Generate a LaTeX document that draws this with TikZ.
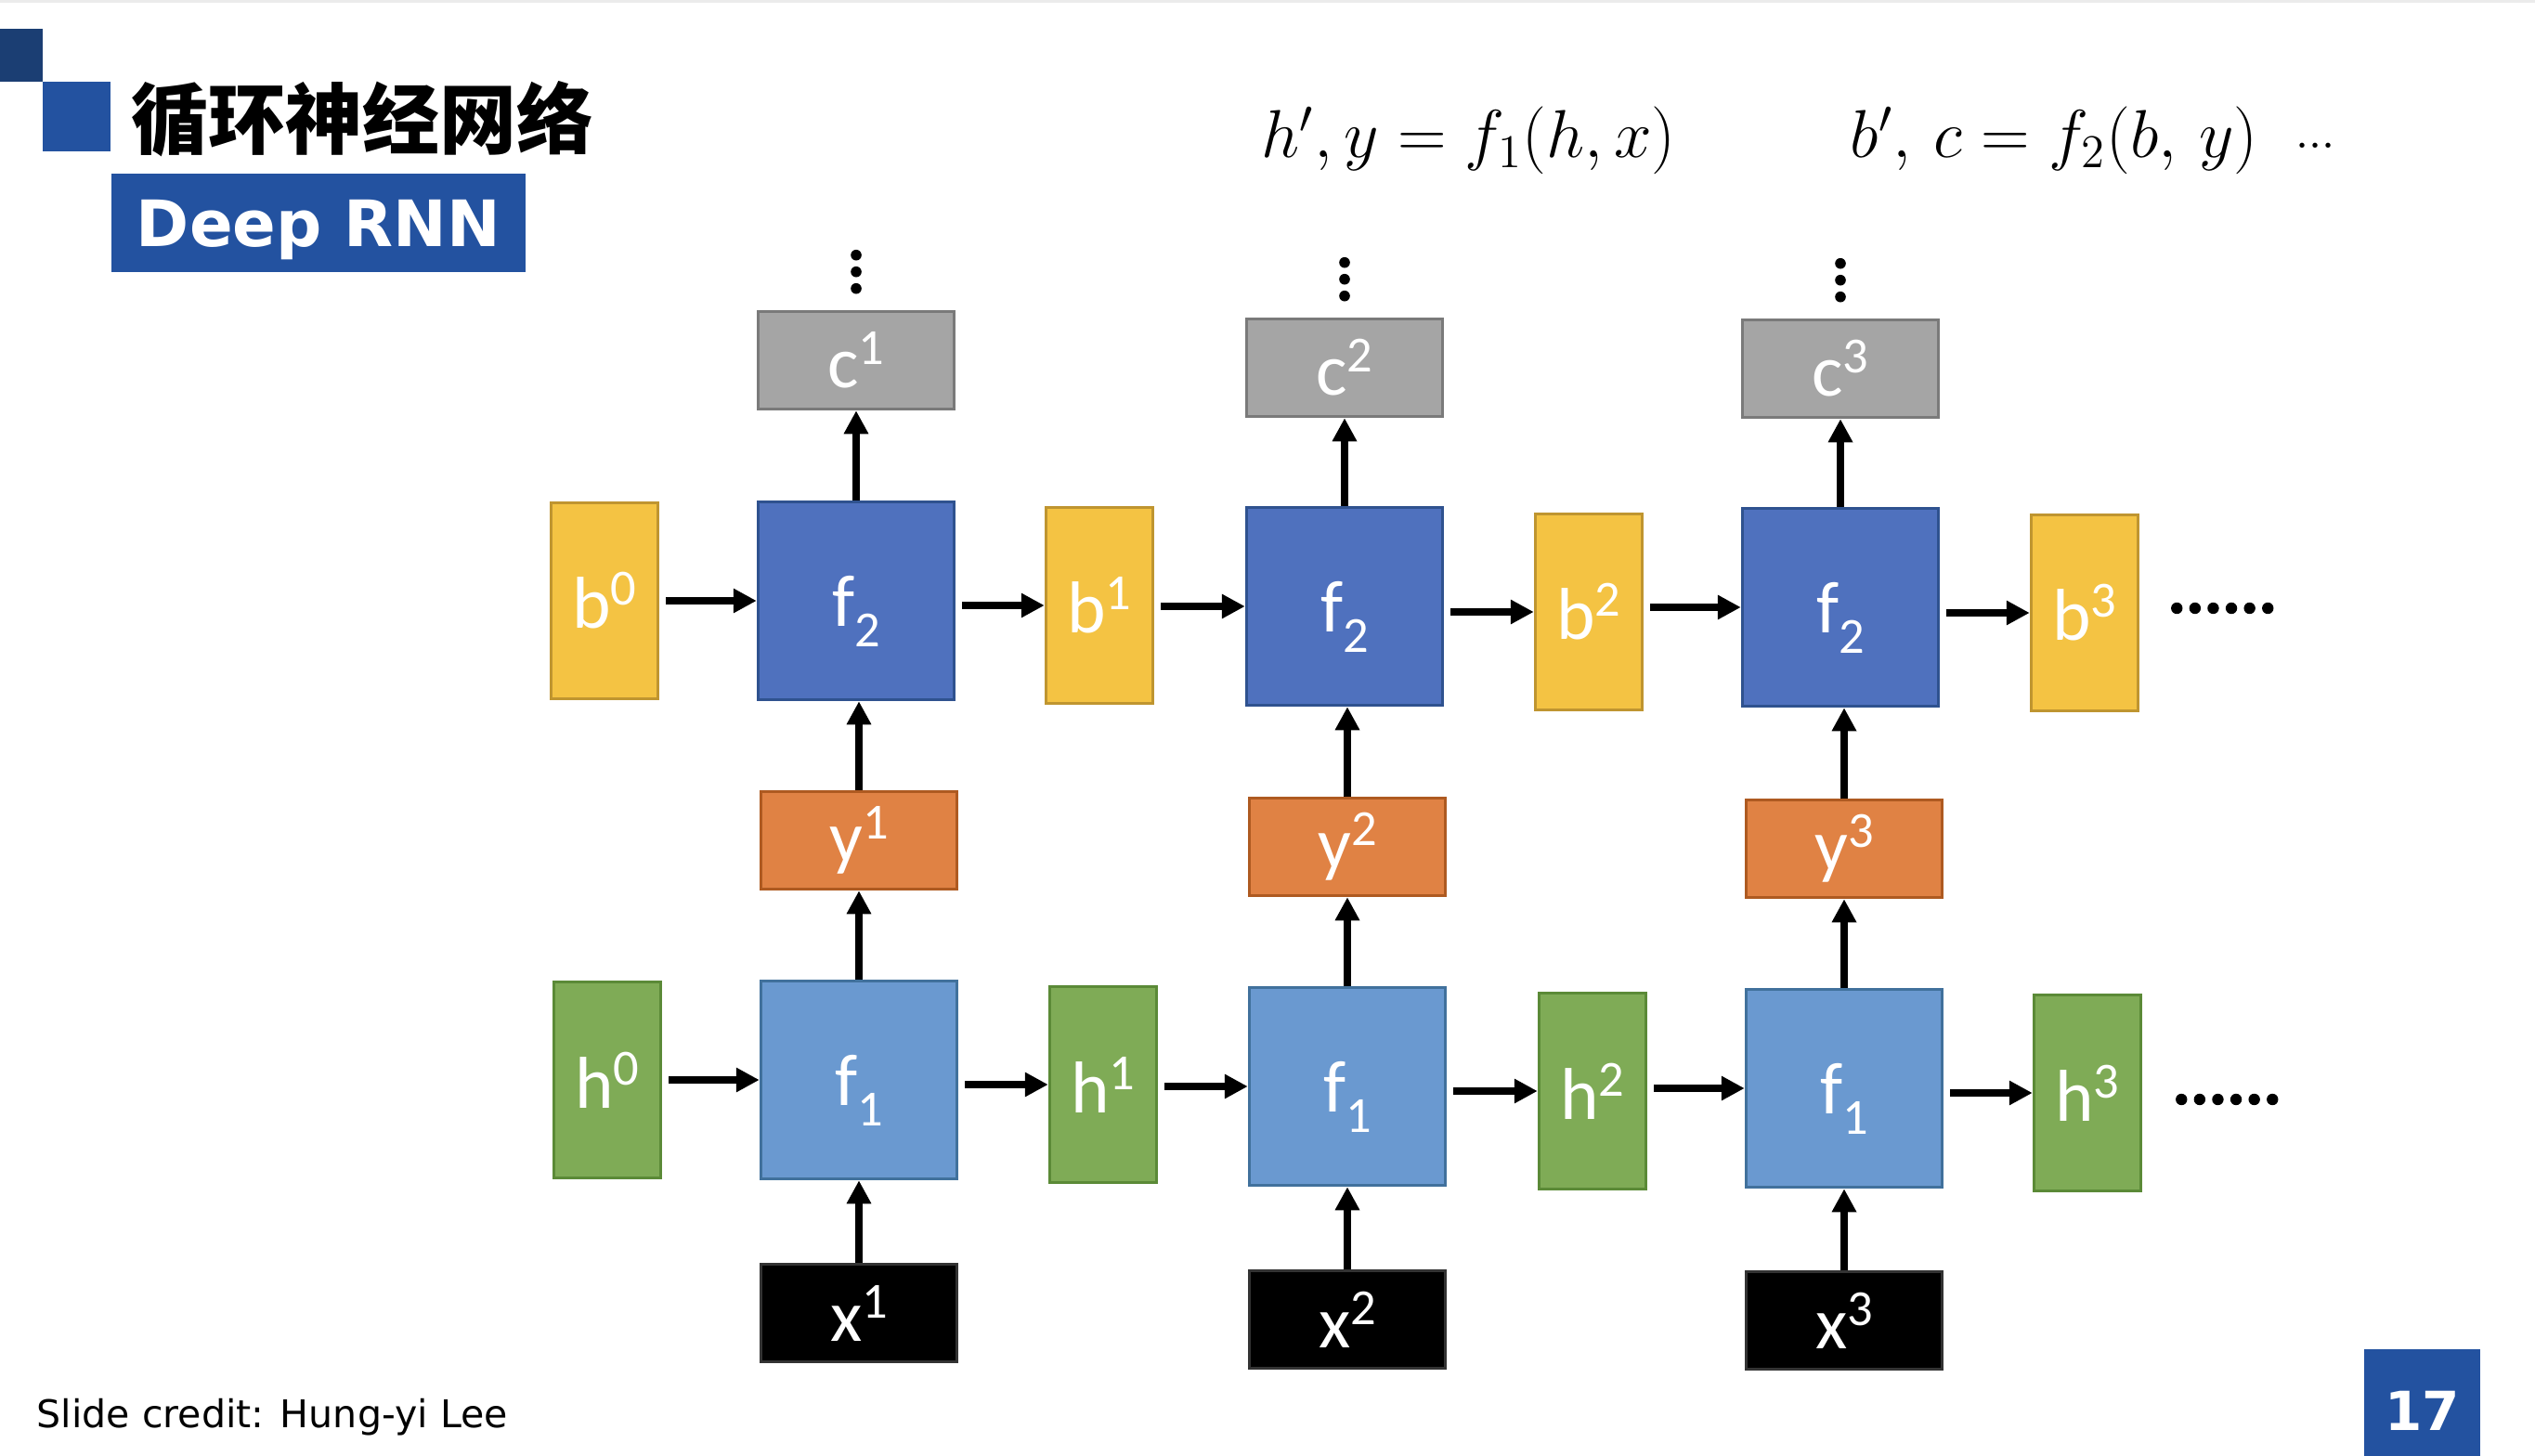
\documentclass[tikz,border=0pt]{standalone}
\usepackage{fontspec}
\usetikzlibrary{arrows.meta}

\newfontfamily\cjk{Noto Sans CJK SC}
\newfontfamily\boxfont{Carlito}
\newfontfamily\slidefont{DejaVu Sans}

\definecolor{slideblue}{HTML}{2352A0}
\definecolor{slidenavy}{HTML}{1B3E73}
\definecolor{ftwofill}{HTML}{4F71BE}
\definecolor{ftwoline}{HTML}{2F528F}
\definecolor{fonefill}{HTML}{6A99D0}
\definecolor{foneline}{HTML}{41719C}
\definecolor{bfill}{HTML}{F4C343}
\definecolor{bline}{HTML}{BF9530}
\definecolor{hfill}{HTML}{7FAB56}
\definecolor{hline}{HTML}{5B8A37}
\definecolor{yfill}{HTML}{E08244}
\definecolor{yline}{HTML}{AE5A21}
\definecolor{cfill}{HTML}{A5A5A5}
\definecolor{cline}{HTML}{7A7A7A}

\newcommand{\supr}[1]{\raisebox{0.25cm}{\fontsize{15.5pt}{16pt}\selectfont #1}}
\newcommand{\subr}[1]{\smash{\raisebox{-0.22cm}{\fontsize{15.5pt}{16pt}\selectfont #1}}}

\begin{document}
\begin{tikzpicture}[
    box/.style={draw, line width=1pt, inner sep=0pt, text=white, font=\boxfont\fontsize{22.5pt}{24pt}\selectfont},
    cell/.style={box, minimum width=2.11cm, minimum height=2.13cm},
    io/.style={box, minimum width=2.11cm, minimum height=1.05cm},
    state/.style={box, minimum width=1.15cm, minimum height=2.11cm},
    ftwo/.style={cell, fill=ftwofill, draw=ftwoline},
    fone/.style={cell, fill=fonefill, draw=foneline},
    bstate/.style={state, fill=bfill, draw=bline},
    hstate/.style={state, fill=hfill, draw=hline},
    yout/.style={io, fill=yfill, draw=yline},
    cout/.style={io, fill=cfill, draw=cline},
    xin/.style={io, fill=black, draw=black!80},
    arrow/.style={-{Triangle[length=0.25cm, width=0.25cm]}, line width=0.085cm}
]

% Slide frame
\path[fill=white] (0,0) rectangle (27.30,-15.68);
\fill[black!8] (0,0) rectangle (27.30,-0.03);
\fill[slidenavy] (0,-0.31) rectangle (0.46,-0.88);
\fill[slideblue] (0.46,-0.88) rectangle (1.19,-1.63);

\node[anchor=west, inner sep=0pt, font=\cjk\bfseries\fontsize{23.6pt}{26pt}\selectfont] (title) at (1.41,-1.28) {循环神经网络};
\node[fill=slideblue, minimum width=4.46cm, minimum height=1.06cm, inner sep=0pt, text=white,
      font=\slidefont\bfseries\fontsize{19.6pt}{22pt}\selectfont, text height=0.52cm, text depth=0cm] (subtitle) at (3.43,-2.40) {Deep RNN};

% Equations
\node[anchor=base west, inner sep=0pt, font=\fontsize{19.4pt}{22pt}\selectfont] (eqone) at (13.58,-1.70) {$h', y = f_1(h, x)$};
\node[anchor=base west, inner sep=0pt, font=\fontsize{19.4pt}{22pt}\selectfont] (eqtwo) at (19.92,-1.70) {$b',\, c = f_2(b,\, y)\hspace{0.6em}{\scriptstyle\cdots}$};

% Upper layer
\node[bstate] (b0) at (6.51,-6.47) {b\supr{0}};
\node[ftwo] (f2a) at (9.22,-6.47) {f\subr{2}};
\node[bstate] (b1) at (11.84,-6.52) {b\supr{1}};
\node[ftwo] (f2b) at (14.48,-6.53) {f\subr{2}};
\node[bstate] (b2) at (17.11,-6.59) {b\supr{2}};
\node[ftwo] (f2c) at (19.82,-6.54) {f\subr{2}};
\node[bstate] (b3) at (22.45,-6.60) {b\supr{3}};

\node[cout] (c1) at (9.22,-3.88) {c\supr{1}};
\node[cout] (c2) at (14.48,-3.96) {c\supr{2}};
\node[cout] (c3) at (19.82,-3.97) {c\supr{3}};

\node[yout] (y1) at (9.25,-9.05) {y\supr{1}};
\node[yout] (y2) at (14.51,-9.12) {y\supr{2}};
\node[yout] (y3) at (19.86,-9.14) {y\supr{3}};

% Lower layer
\node[hstate] (h0) at (6.54,-11.63) {h\supr{0}};
\node[fone] (f1a) at (9.25,-11.63) {f\subr{1}};
\node[hstate] (h1) at (11.88,-11.68) {h\supr{1}};
\node[fone] (f1b) at (14.51,-11.70) {f\subr{1}};
\node[hstate] (h2) at (17.15,-11.75) {h\supr{2}};
\node[fone] (f1c) at (19.86,-11.72) {f\subr{1}};
\node[hstate] (h3) at (22.48,-11.77) {h\supr{3}};

\node[xin] (x1) at (9.25,-14.14) {x\supr{1}};
\node[xin] (x2) at (14.51,-14.21) {x\supr{2}};
\node[xin] (x3) at (19.86,-14.22) {x\supr{3}};

% Horizontal arrows
\draw[arrow, shorten <=0.07cm] (b0.east |- f2a) -- (f2a.west);
\draw[arrow, shorten <=0.07cm] (f2a.east |- b1) -- (b1.west);
\draw[arrow, shorten <=0.07cm] (b1.east |- f2b) -- (f2b.west);
\draw[arrow, shorten <=0.07cm] (f2b.east |- b2) -- (b2.west);
\draw[arrow, shorten <=0.07cm] (b2.east |- f2c) -- (f2c.west);
\draw[arrow, shorten <=0.07cm] (f2c.east |- b3) -- (b3.west);

\draw[arrow, shorten <=0.07cm] (h0.east |- f1a) -- (f1a.west);
\draw[arrow, shorten <=0.07cm] (f1a.east |- h1) -- (h1.west);
\draw[arrow, shorten <=0.07cm] (h1.east |- f1b) -- (f1b.west);
\draw[arrow, shorten <=0.07cm] (f1b.east |- h2) -- (h2.west);
\draw[arrow, shorten <=0.07cm] (h2.east |- f1c) -- (f1c.west);
\draw[arrow, shorten <=0.07cm] (f1c.east |- h3) -- (h3.west);

% Vertical arrows
\draw[arrow] (x1.north) -- (x1.north |- f1a.south);
\draw[arrow] (f1a.north) -- (f1a.north |- y1.south);
\draw[arrow] (y1.north) -- (y1.north |- f2a.south);
\draw[arrow] (f2a.north) -- (f2a.north |- c1.south);

\draw[arrow] (x2.north) -- (x2.north |- f1b.south);
\draw[arrow] (f1b.north) -- (f1b.north |- y2.south);
\draw[arrow] (y2.north) -- (y2.north |- f2b.south);
\draw[arrow] (f2b.north) -- (f2b.north |- c2.south);

\draw[arrow] (x3.north) -- (x3.north |- f1c.south);
\draw[arrow] (f1c.north) -- (f1c.north |- y3.south);
\draw[arrow] (y3.north) -- (y3.north |- f2c.south);
\draw[arrow] (f2c.north) -- (f2c.north |- c3.south);

% Continuation dots
\foreach \n in {c1,c2,c3}
    \foreach \d in {0.23,0.41,0.59}
        \fill ([yshift=\d cm]\n.north) circle (0.058);
\foreach \k in {0,...,5} {
    \fill ([xshift=0.40cm+\k*0.196cm, yshift=0.05cm]b3.east) circle (0.062);
    \fill ([xshift=0.42cm+\k*0.196cm, yshift=-0.07cm]h3.east) circle (0.062);
}

% Footer
\node[anchor=base west, inner sep=0pt, font=\slidefont\fontsize{11.7pt}{14pt}\selectfont] (credit) at (0.39,-15.37) {Slide credit: Hung-yi Lee};
\node[fill=slideblue, minimum width=1.25cm, minimum height=1.15cm, inner sep=0pt, text=white,
      font=\slidefont\bfseries\fontsize{16.5pt}{18pt}\selectfont, text height=0.59cm, text depth=0cm] (page) at (26.085,-15.105) {17};

\end{tikzpicture}
\end{document}
